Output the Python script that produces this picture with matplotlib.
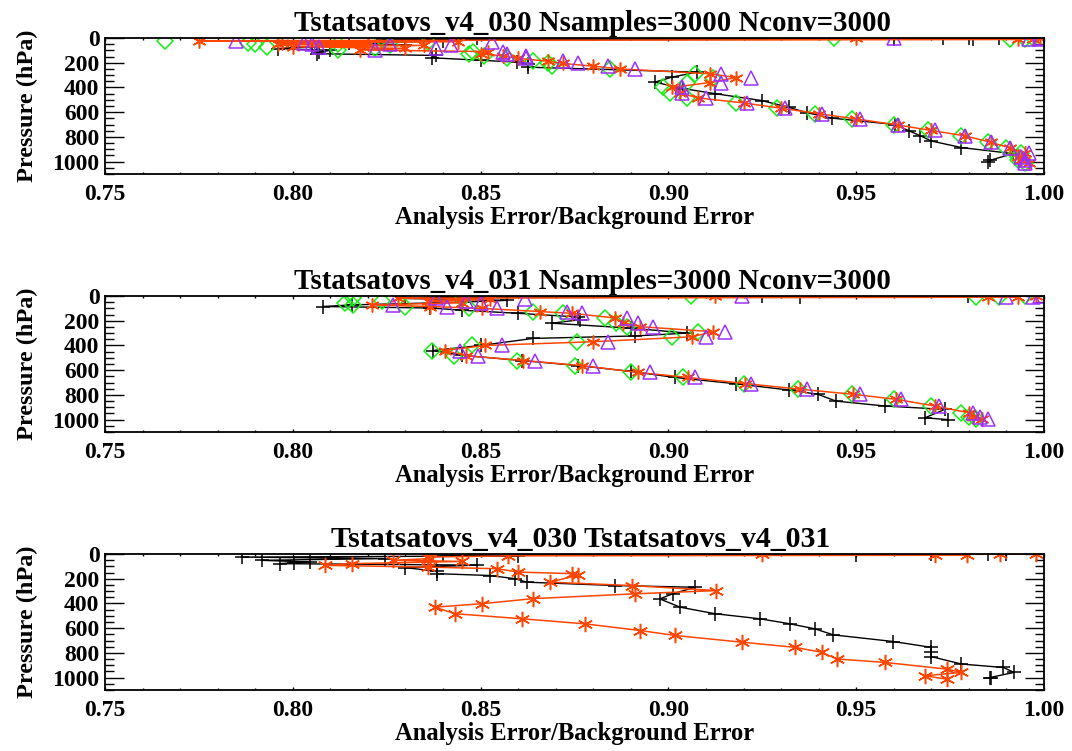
import matplotlib
matplotlib.use("Agg")
import matplotlib.pyplot as plt
from matplotlib.ticker import MultipleLocator, FormatStrFormatter

plt.rcParams["font.family"] = ["Liberation Serif", "DejaVu Serif"]
plt.rcParams["font.weight"] = "bold"

# ---- panel 1: Tstatsatovs_v4_030 ----
p1 = [1, 3, 6, 12, 22, 30, 38, 45, 52, 60, 70, 84, 97, 110, 127, 145, 165, 188, 206, 228,
      250, 289, 320, 360, 400, 445, 485, 525, 568, 612, 655, 703, 748, 792, 845, 890, 930,
      965, 990, 1010]
red1 = [0.999, 0.950, 0.997, 0.993, 0.775, 0.844, 0.797, 0.820, 0.796, 0.835, 0.800, 0.830,
        0.818, 0.852, 0.850, 0.856, 0.860, 0.868, 0.872, 0.880, 0.887, 0.911, 0.918, 0.911,
        0.901, 0.903, 0.908, 0.920, 0.930, 0.940, 0.950, 0.961, 0.970, 0.979, 0.986, 0.991,
        0.995, 0.993, 0.994, 0.996]
green1 = [0.997, 0.944, 0.995, 0.991, 0.766, 0.836, 0.788, 0.812, 0.790, 0.826, 0.793, 0.822,
          0.812, 0.848, 0.847, 0.851, 0.857, 0.864, 0.868, 0.869, 0.8845, 0.907, 0.912, 0.905,
          0.8986, 0.9004, 0.905, 0.918, 0.929, 0.939, 0.949, 0.960, 0.969, 0.978, 0.985, 0.990,
          0.994, 0.993, 0.993, 0.995]
purple1 = [0.999, 0.960, 0.999, 0.996, 0.785, 0.853, 0.803, 0.826, 0.805, 0.842, 0.807, 0.838,
           0.822, 0.856, 0.857, 0.862, 0.862, 0.872, 0.876, 0.884, 0.891, 0.914, 0.922, 0.914,
           0.9035, 0.9035, 0.910, 0.921, 0.931, 0.941, 0.951, 0.961, 0.971, 0.979, 0.986, 0.991,
           0.996, 0.994, 0.995, 0.995]
pb1 = [1, 2, 3, 4, 5, 7, 10, 15, 25, 40, 55, 70, 85, 100, 114, 127, 141, 160, 180, 195, 208,
       236, 276, 317, 357, 409, 450, 506, 560, 605, 648, 700, 750, 790, 833, 886, 935, 990, 1000]
black1 = [0.973, 0.988, 0.980, 0.849, 0.981, 0.824, 0.960, 0.835, 0.840, 0.815, 0.830, 0.805,
          0.796, 0.810, 0.807, 0.8064, 0.838, 0.837, 0.850, 0.8596, 0.8626, 0.8626, 0.9076,
          0.9009, 0.8964, 0.9039, 0.9124, 0.9248, 0.932, 0.937, 0.9435, 0.9604, 0.964, 0.967,
          0.970, 0.978, 0.9917, 0.9856, 0.985]

# ---- panel 2: Tstatsatovs_v4_031 ----
p2 = [1, 3, 6, 10, 18, 28, 40, 55, 72, 85, 100, 126, 140, 178, 215, 248, 289, 330, 370, 400,
      441, 482, 522, 563, 618, 659, 708, 754, 795, 836, 890, 944, 975, 998]
red2 = [0.998, 0.9124, 0.993, 0.985, 0.828, 0.8525, 0.836, 0.845, 0.821, 0.8365, 0.8503,
        0.8658, 0.8743, 0.8858, 0.888, 0.8925, 0.912, 0.9062, 0.880, 0.8512, 0.8405, 0.846,
        0.8614, 0.8769, 0.892, 0.9053, 0.9204, 0.935, 0.9492, 0.9607, 0.971, 0.9799, 0.981,
        0.9834]
green2 = [0.995, 0.906, 0.988, 0.982, 0.816, 0.845, 0.8237, 0.8139, 0.816, 0.830, 0.847,
          0.864, 0.872, 0.883, 0.886, 0.889, 0.908, 0.901, 0.8756, 0.8476, 0.837, 0.8428,
          0.8596, 0.8751, 0.890, 0.904, 0.920, 0.9345, 0.949, 0.960, 0.970, 0.978, 0.980, 0.982]
purple2 = [0.999, 0.9195, 0.997, 0.990, 0.838, 0.8618, 0.846, 0.850, 0.8268, 0.841, 0.8543,
           0.873, 0.877, 0.889, 0.892, 0.896, 0.915, 0.910, 0.884, 0.8556, 0.8445, 0.8494,
           0.8645, 0.880, 0.895, 0.907, 0.922, 0.937, 0.951, 0.962, 0.972, 0.981, 0.983, 0.985]
pb2 = [1, 3, 5, 10, 20, 35, 50, 72, 85, 97, 115, 140, 170, 192, 220, 260, 300, 323, 343, 400,
       441, 480, 522, 563, 610, 659, 710, 760, 795, 850, 890, 917, 985, 1000]
black2 = [0.9798, 0.9248, 0.935, 0.840, 0.830, 0.857, 0.845, 0.8157, 0.808, 0.8366, 0.845,
          0.860, 0.876, 0.8764, 0.869, 0.890, 0.905, 0.8911, 0.864, 0.850, 0.8373, 0.845,
          0.861, 0.876, 0.890, 0.9018, 0.918, 0.932, 0.9398, 0.9446, 0.9577, 0.9736, 0.9683,
          0.9745]

# ---- panel 3: v4_030 vs v4_031 ----
pb3 = [1, 2, 4, 6, 10, 15, 25, 37, 51, 65, 70, 78, 90, 110, 140, 159, 174, 200, 228, 255, 269,
       320, 363, 430, 483, 524, 565, 605, 654, 708, 755, 795, 830, 890, 918, 958, 999, 1005]
black3 = [0.985, 0.990, 0.970, 0.950, 0.840, 0.860, 0.7864, 0.8246, 0.7917, 0.8046, 0.8002,
          0.7966, 0.849, 0.830, 0.8383, 0.8383, 0.8525, 0.8592, 0.8623, 0.8858, 0.9071, 0.9013,
          0.8977, 0.9031, 0.9124, 0.9244, 0.9324, 0.939, 0.9439, 0.9599, 0.970, 0.970, 0.970,
          0.978, 0.9892, 0.992, 0.9856, 0.986]
pr3 = [1, 2, 4, 6, 10, 15, 25, 37, 51, 60, 78, 92, 106, 119, 146, 159, 170, 228, 255, 296, 322,
       361, 402, 430, 483, 524, 565, 619, 659, 713, 755, 795, 849, 877, 931, 958, 985, 1012]
red3 = [0.998, 0.9883, 0.9248, 0.9794, 0.971, 0.8574, 0.836, 0.8365, 0.8268, 0.845, 0.8157,
        0.8086, 0.836, 0.8543, 0.860, 0.8743, 0.876, 0.8685, 0.8902, 0.9128, 0.8911, 0.864,
        0.8503, 0.8378, 0.8432, 0.861, 0.8778, 0.8925, 0.9018, 0.9195, 0.9337, 0.9408, 0.9448,
        0.9577, 0.9741, 0.978, 0.9683, 0.9741]

RED = "#FF4500"
GREEN = "#11EE11"
PURPLE = "#9B30FF"
ASTER = (6, 2, 0)

fig = plt.figure(figsize=(10.72, 7.51), dpi=100)
lefts = 105 / 1072
width = (1044 - 105) / 1072
tops = [38, 296, 554]
h = 136 / 751


def style(ax, title, tsize=20.7, tshift=0):
    ax.set_xlim(0.75, 1.0)
    ax.set_ylim(1100, 0)
    ax.xaxis.set_major_locator(MultipleLocator(0.05))
    ax.xaxis.set_minor_locator(MultipleLocator(0.01))
    ax.xaxis.set_major_formatter(FormatStrFormatter("%.2f"))
    ax.yaxis.set_major_locator(MultipleLocator(200))
    ax.yaxis.set_minor_locator(MultipleLocator(50))
    ax.tick_params(axis="both", which="both", direction="in", top=True, right=True,
                   labelsize=17, width=1.0)
    ax.tick_params(axis="x", which="major", length=2.2, pad=7)
    ax.tick_params(axis="x", which="minor", length=1.1)
    ax.tick_params(axis="y", which="major", length=13.5, pad=4)
    ax.tick_params(axis="y", which="minor", length=6.8)
    for s in ax.spines.values():
        s.set_linewidth(1.3)
    ax.set_title(title, fontsize=tsize, fontweight="bold", pad=5, x=0.5 + tshift / 939)
    ax.set_xlabel("Analysis Error/Background Error", fontsize=17.7, fontweight="bold", labelpad=1)
    ax.set_ylabel("Pressure (hPa)", fontsize=17.5, fontweight="bold", labelpad=10)


mk = dict(markerfacecolor="none", markeredgewidth=1.1)

ax1 = fig.add_axes([lefts, 1 - (tops[0] + 136) / 751, width, h])
ax1.plot(black1, pb1, color="black", lw=1, marker="+", ms=10, **mk)
ax1.plot(green1, p1, ls="none", color=GREEN, marker="D", ms=8, **mk)
ax1.plot(red1, p1, color=RED, lw=1.1, marker=ASTER, ms=10, **mk)
ax1.plot(purple1, p1, ls="none", color=PURPLE, marker="^", ms=10, **mk)
style(ax1, "Tstatsatovs_v4_030 Nsamples=3000 Nconv=3000", tshift=18)

ax2 = fig.add_axes([lefts, 1 - (tops[1] + 136) / 751, width, h])
ax2.plot(black2, pb2, color="black", lw=1, marker="+", ms=10, **mk)
ax2.plot(green2, p2, ls="none", color=GREEN, marker="D", ms=8, **mk)
ax2.plot(red2, p2, color=RED, lw=1.1, marker=ASTER, ms=10, **mk)
ax2.plot(purple2, p2, ls="none", color=PURPLE, marker="^", ms=10, **mk)
style(ax2, "Tstatsatovs_v4_031 Nsamples=3000 Nconv=3000", tshift=18)

ax3 = fig.add_axes([lefts, 1 - (tops[2] + 136) / 751, width, h])
ax3.plot(black3, pb3, color="black", lw=1, marker="+", ms=10, **mk)
ax3.plot(red3, pr3, color=RED, lw=1.1, marker=ASTER, ms=11, **mk)
style(ax3, "Tstatsatovs_v4_030 Tstatsatovs_v4_031", tsize=21.5, tshift=6)

fig.savefig("out.png", dpi=100)
